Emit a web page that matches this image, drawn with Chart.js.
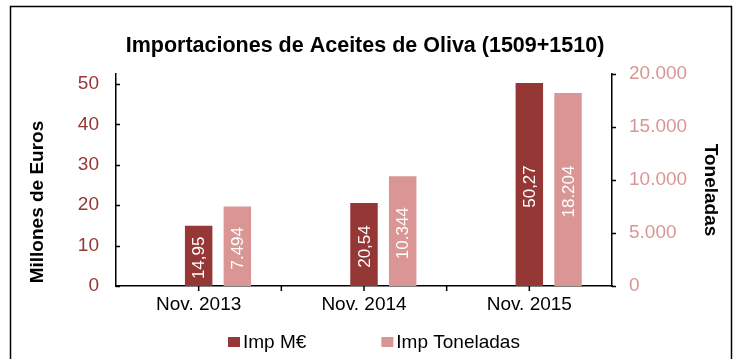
<!DOCTYPE html>
<html>
<head>
<meta charset="utf-8">
<script src="https://cdn.jsdelivr.net/npm/chart.js@4/dist/chart.umd.min.js"></script>
<style>
  html, body { margin: 0; padding: 0; background: #ffffff; }
  #wrap { width: 739px; height: 359px; position: relative; }
</style>
</head>
<body>
<div id="wrap"><canvas id="chart" width="739" height="359"></canvas></div>
<script>
// Importaciones de aceites de oliva (partidas 1509 + 1510), mes de noviembre
const categories = ['Nov. 2013', 'Nov. 2014', 'Nov. 2015'];
const impMillonesEuros = [14.95, 20.54, 50.27];
const impToneladas = [7494, 10344, 18204];
const eurosTickStep = 10;
const eurosAxisMax = 52.5;
const toneladasTickStep = 5000;
const toneladasAxisMax = 20000;

const chartTitle = 'Importaciones de Aceites de Oliva (1509+1510)';
const leftAxisTitle = 'Millones de Euros';
const rightAxisTitle = 'Toneladas';

const DARK = '#953735';
const LIGHT = '#D99694';
const FONT = "'Liberation Sans', Arial, sans-serif";

function fmtDecimal(v) { return v.toFixed(2).replace('.', ','); }
function fmtThousands(v) { return String(Math.round(v)).replace(/\B(?=(\d{3})+(?!\d))/g, '.'); }

const decorations = {
  id: 'decorations',
  beforeDraw(chart) {
    const ctx = chart.ctx;
    ctx.save();
    ctx.fillStyle = '#ffffff';
    ctx.fillRect(0, 0, chart.width, chart.height);
    ctx.strokeStyle = '#000000';
    ctx.lineWidth = 1.5;
    ctx.strokeRect(10.5, 6.5, 721, chart.height + 20);
    ctx.restore();
  },
  afterDatasetsDraw(chart) {
    const ctx = chart.ctx;
    ctx.save();
    ctx.fillStyle = '#ffffff';
    ctx.font = '17px ' + FONT;
    ctx.textAlign = 'center';
    ctx.textBaseline = 'middle';
    chart.data.datasets.forEach((ds, di) => {
      if (!ds.valueFormat) return;
      const meta = chart.getDatasetMeta(di);
      meta.data.forEach((bar, i) => {
        const v = ds.data[i];
        if (v == null) return;
        const cy = (bar.y + bar.base) / 2 + 2;
        ctx.save();
        ctx.translate(bar.x + 1, cy);
        ctx.rotate(-Math.PI / 2);
        ctx.fillText(ds.valueFormat(v), 0, 0);
        ctx.restore();
      });
    });
    ctx.restore();
  },
  afterDraw(chart) {
    const ctx = chart.ctx;
    const area = chart.chartArea;
    const xs = chart.scales.x, ys = chart.scales.y, ys1 = chart.scales.y1;
    ctx.save();

    // tick marks
    ctx.strokeStyle = '#000000';
    ctx.lineWidth = 1.5;
    ctx.beginPath();
    ys.ticks.forEach(t => {
      const py = Math.round(ys.getPixelForValue(t.value)) + 0.5;
      ctx.moveTo(area.left, py); ctx.lineTo(area.left + 4, py);
    });
    ys1.ticks.forEach(t => {
      const py = Math.round(ys1.getPixelForValue(t.value)) + 0.5;
      ctx.moveTo(area.right, py); ctx.lineTo(area.right + 4, py);
    });
    categories.forEach((c, i) => {
      const px = xs.getPixelForValue(i);
      ctx.moveTo(px, area.bottom); ctx.lineTo(px, area.bottom + 5);
      if (i < categories.length - 1) {
        const nx = (px + xs.getPixelForValue(i + 1)) / 2;
        ctx.moveTo(nx, area.bottom); ctx.lineTo(nx, area.bottom + 5);
      }
    });
    ctx.stroke();

    // title
    ctx.fillStyle = '#000000';
    ctx.font = 'bold 21.5px ' + FONT;
    ctx.textAlign = 'center';
    ctx.textBaseline = 'alphabetic';
    ctx.fillText(chartTitle, 365, 52);

    // axis titles
    ctx.font = 'bold 19px ' + FONT;
    ctx.textBaseline = 'middle';
    ctx.save();
    ctx.translate(38, 202);
    ctx.rotate(-Math.PI / 2);
    ctx.fillText(leftAxisTitle, 0, 0);
    ctx.restore();
    ctx.save();
    ctx.translate(710, 190);
    ctx.rotate(Math.PI / 2);
    ctx.fillText(rightAxisTitle, 0, 0);
    ctx.restore();

    // legend
    ctx.font = '19px ' + FONT;
    ctx.textAlign = 'left';
    const items = chart.data.datasets.filter(d => d.valueFormat);
    const box = 12, gap = 3, spacing = 75;
    const widths = items.map(d => box + gap + ctx.measureText(d.label).width);
    const total = widths.reduce((a, b) => a + b, 0) + spacing * (items.length - 1);
    let x = Math.round(chart.width / 2 - total / 2 + 4);
    const ly = 342;
    items.forEach((d, i) => {
      ctx.fillStyle = d.backgroundColor;
      ctx.fillRect(x, ly - 5, box, 10);
      ctx.fillStyle = '#000000';
      ctx.fillText(d.label, x + box + gap, ly + 1);
      x += widths[i] + spacing;
    });
    ctx.restore();
  }
};

new Chart(document.getElementById('chart'), {
  type: 'bar',
  data: {
    labels: categories,
    datasets: [
      {
        label: 'spacer',
        data: categories.map(() => null),
        yAxisID: 'y',
        backgroundColor: 'rgba(0,0,0,0)'
      },
      {
        label: 'Imp M€',
        data: impMillonesEuros,
        yAxisID: 'y',
        backgroundColor: DARK,
        valueFormat: fmtDecimal
      },
      {
        label: 'Imp Toneladas',
        data: impToneladas,
        yAxisID: 'y1',
        backgroundColor: LIGHT,
        valueFormat: fmtThousands
      }
    ]
  },
  options: {
    responsive: false,
    animation: false,
    devicePixelRatio: 1,
    layout: { padding: { top: 74, left: 0, right: 0, bottom: 0 } },
    datasets: { bar: { categoryPercentage: 0.702, barPercentage: 0.71, borderWidth: 0 } },
    plugins: {
      legend: { display: false },
      title: { display: false },
      tooltip: { enabled: false }
    },
    scales: {
      x: {
        grid: { display: false, drawTicks: false },
        border: { display: true, color: '#000000', width: 1.5 },
        ticks: { color: '#000000', font: { family: FONT, size: 19 }, padding: 7, maxRotation: 0 },
        afterFit(s) { s.height = 73; }
      },
      y: {
        position: 'left',
        min: 0,
        max: eurosAxisMax,
        grid: { display: false, drawTicks: false },
        border: { display: true, color: '#000000', width: 1.5 },
        ticks: {
          stepSize: eurosTickStep,
          includeBounds: false,
          color: DARK,
          font: { family: FONT, size: 19 },
          padding: 17,
          callback: v => String(v)
        },
        afterFit(s) { s.width = 116; }
      },
      y1: {
        position: 'right',
        min: 0,
        max: toneladasAxisMax,
        grid: { display: false, drawTicks: false },
        border: { display: true, color: '#000000', width: 1.5 },
        ticks: {
          stepSize: toneladasTickStep,
          color: LIGHT,
          font: { family: FONT, size: 19 },
          padding: 17,
          callback: v => fmtThousands(v)
        },
        afterFit(s) { s.width = 127; }
      }
    }
  },
  plugins: [decorations]
});
</script>
</body>
</html>
